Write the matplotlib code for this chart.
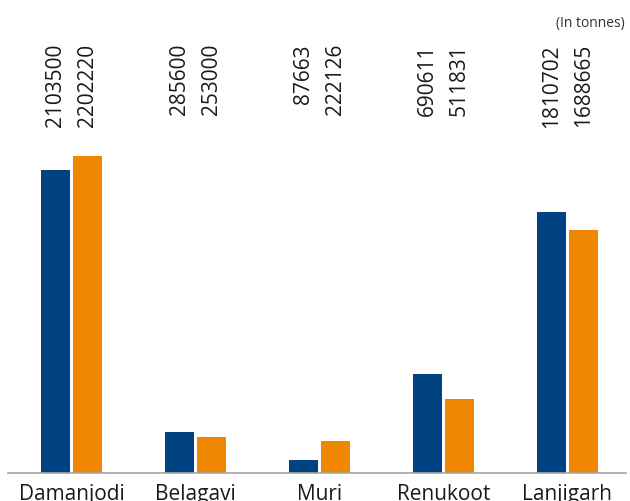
import matplotlib
matplotlib.use("Agg")
import matplotlib.pyplot as plt
from matplotlib.transforms import blended_transform_factory

categories = ["Damanjodi", "Belagavi", "Muri", "Renukoot", "Lanjigarh"]
series_a = [2103500, 285600, 87663, 690611, 1810702]
series_b = [2202220, 253000, 222126, 511831, 1688665]
unit_note = "(In tonnes)"

blue = "#004282"
orange = "#F08700"
text_color = "#1a1a1a"

plt.rcParams['font.family'] = ['Open Sans', 'DejaVu Sans']

W, H = 630, 501
fig = plt.figure(figsize=(W / 100, H / 100), dpi=100)
ax_left, ax_right = 8, 626
ax_bottom, ax_top = 473, 44
ax = fig.add_axes([ax_left / W, (H - ax_bottom) / H, (ax_right - ax_left) / W, (ax_bottom - ax_top) / H])

spacing = 124.0
x = list(range(len(categories)))
bw = 29 / spacing
off = 16 / spacing
ax.bar([i - off for i in x], series_a, width=bw, color=blue)
ax.bar([i + off for i in x], series_b, width=bw, color=orange)

ax.set_xlim(-(71.5 - ax_left) / spacing, 4 + (ax_right - 567.5) / spacing)
ax.set_ylim(0, (ax_bottom - ax_top) / 1.44e-4)

for s in ["top", "right", "left"]:
    ax.spines[s].set_visible(False)
ax.spines["bottom"].set_color("#a6a6a6")
ax.spines["bottom"].set_linewidth(1.2)
ax.set_yticks([])
ax.set_xticks(x)
ax.set_xticklabels(categories, fontsize=15, color=text_color)
ax.tick_params(axis="x", length=0, pad=8)

tr = blended_transform_factory(ax.transData, ax.transAxes)
for i in x:
    ax.text(i - off, 1.0, str(series_a[i]), rotation=90, ha="center", va="top",
            fontsize=15, color=text_color, transform=tr)
    ax.text(i + off, 1.0, str(series_b[i]), rotation=90, ha="center", va="top",
            fontsize=15, color=text_color, transform=tr)

fig.text(625 / W, 1 - 23 / H, unit_note, ha="right", va="center", fontsize=10,
         color="#333333")

fig.savefig("out.png", dpi=100)
